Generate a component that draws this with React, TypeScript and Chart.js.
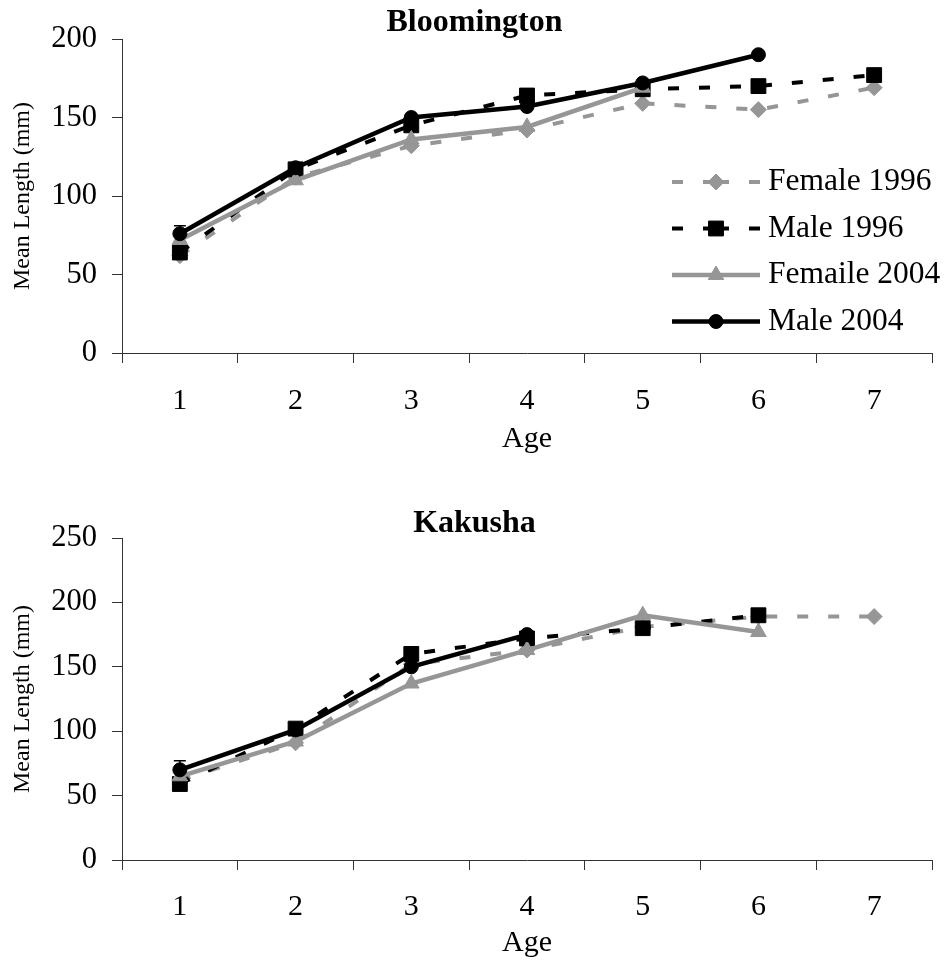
import React, { useEffect, useRef } from 'react';
import { Chart, registerables } from 'chart.js';
import { drawPoint } from 'chart.js/helpers';

Chart.register(...registerables);
Chart.defaults.font.family = '"Liberation Serif", "Times New Roman", serif';
Chart.defaults.color = '#000';

// ---------- data ----------
const ages = ['1', '2', '3', '4', '5', '6', '7'];
const seriesNames = ['Female 1996', 'Male 1996', 'Femaile 2004', 'Male 2004'];

const bloomF1996 = [62, 112, 132, 142, 159, 155, 169];
const bloomM1996 = [64, 117, 145, 164, 168, 170, 177];
const bloomF2004 = [72, 110, 136, 144, 169, null, null];
const bloomM2004 = [76, 118, 150, 157, 172, 190, null];
const bloomM2004Err = [5, null, null, null, null, null, null];
const bloomYTicks = [0, 50, 100, 150, 200];

const kakF1996 = [62, 91, 152, 163, 181, 189, 189];
const kakM1996 = [59, 102, 160, 172, 180, 190, null];
const kakF2004 = [65, 92, 137, 163, 190, 177, null];
const kakM2004 = [70, 101, 150, 175, null, null, null];
const kakM2004Err = [7, null, null, null, null, null, null];
const kakYTicks = [0, 50, 100, 150, 200, 250];

// ---------- styles ----------
const GRAY = '#969696';
const BLACK = '#000000';
const AXIS = '#333333';
const seriesStyles = [
  { color: GRAY, dash: [11, 20], width: 4, point: 'rectRot', radius: 8, order: 3 },
  { color: BLACK, dash: [11, 20], width: 4, point: 'rect', radius: 10.5, order: 2 },
  { color: GRAY, dash: [] as number[], width: 4.5, point: 'triangle', radius: 9, order: 1 },
  { color: BLACK, dash: [] as number[], width: 4.5, point: 'circle', radius: 7, order: 0 },
];

const insideLegend = {
  id: 'insideLegend',
  afterDraw(chart: any, _args: any, opts: any) {
    if (!opts || !opts.display) return;
    const ctx = chart.ctx;
    const { x0, x1, tx, y0, dy } = opts;
    const xm = (x0 + x1) / 2;
    ctx.save();
    chart.data.datasets.forEach((ds: any, i: number) => {
      const y = y0 + i * dy;
      ctx.lineWidth = ds.borderWidth;
      ctx.strokeStyle = ds.borderColor;
      ctx.lineCap = 'butt';
      ctx.setLineDash(ds.borderDash || []);
      ctx.beginPath();
      ctx.moveTo(x0, y);
      ctx.lineTo(xm, y);
      ctx.stroke();
      ctx.beginPath();
      ctx.moveTo(x1, y);
      ctx.lineTo(xm, y);
      ctx.stroke();
      ctx.setLineDash([]);
      ctx.fillStyle = ds.pointBackgroundColor;
      ctx.strokeStyle = ds.pointBorderColor;
      ctx.lineWidth = 1;
      drawPoint(ctx, { pointStyle: ds.pointStyle, radius: ds.pointRadius, borderWidth: 1, rotation: 0 } as any, xm, y);
      ctx.fillStyle = '#000';
      ctx.font = '31.5px "Liberation Serif", "Times New Roman", serif';
      ctx.textAlign = 'left';
      ctx.textBaseline = 'middle';
      ctx.fillText(ds.label, tx, y);
    });
    ctx.restore();
  },
};

const errorBars = {
  id: 'errorBars',
  beforeDatasetsDraw(chart: any, _args: any, opts: any) {
    if (!opts || !opts.errors) return;
    const ctx = chart.ctx;
    const idx = opts.datasetIndex;
    const ds = chart.data.datasets[idx];
    const meta = chart.getDatasetMeta(idx);
    const yScale = chart.scales.y;
    ctx.save();
    ctx.strokeStyle = '#000';
    ctx.lineWidth = 1.5;
    meta.data.forEach((pt: any, i: number) => {
      const e = opts.errors[i];
      const v = ds.data[i];
      if (e == null || v == null) return;
      const yt = yScale.getPixelForValue(v + e);
      const yb = yScale.getPixelForValue(v - e);
      ctx.beginPath();
      ctx.moveTo(pt.x, yt);
      ctx.lineTo(pt.x, yb);
      ctx.moveTo(pt.x - 6, yt);
      ctx.lineTo(pt.x + 6, yt);
      ctx.moveTo(pt.x - 6, yb);
      ctx.lineTo(pt.x + 6, yb);
      ctx.stroke();
    });
    ctx.restore();
  },
};

function makeDatasets(series: (number | null)[][]) {
  return series.map((data, i) => {
    const s = seriesStyles[i];
    return {
      label: seriesNames[i],
      data,
      borderColor: s.color,
      backgroundColor: s.color,
      borderWidth: s.width,
      borderDash: s.dash,
      pointStyle: s.point,
      pointRadius: s.radius,
      pointHoverRadius: s.radius,
      pointBackgroundColor: s.color,
      pointBorderColor: s.color,
      pointBorderWidth: 1,
      tension: 0,
      fill: false,
      order: s.order,
      spanGaps: false,
    };
  });
}

const LEFT_PAD = 17;

function makeConfig(opts: {
  title: string;
  yTicks: number[];
  series: (number | null)[][];
  errors: (number | null)[];
  titlePadTop: number;
  titlePadBottom: number;
  xHeight: number;
  xTickPad: number;
  legend: boolean;
}): any {
  const yt = opts.yTicks;
  return {
    type: 'line',
    data: { labels: ages, datasets: makeDatasets(opts.series) },
    plugins: [insideLegend, errorBars],
    options: {
      responsive: false,
      animation: false,
      devicePixelRatio: 1,
      events: [],
      layout: { padding: { left: LEFT_PAD, right: 14, top: 0, bottom: 0 } },
      plugins: {
        legend: { display: false },
        tooltip: { enabled: false },
        title: {
          display: true,
          text: opts.title,
          color: '#000',
          font: { size: 32, weight: 'bold', lineHeight: 1 },
          padding: { top: opts.titlePadTop, bottom: opts.titlePadBottom },
        },
        insideLegend: { display: opts.legend, x0: 672, x1: 760, tx: 768, y0: 182, dy: 46.5 },
        errorBars: { errors: opts.errors, datasetIndex: 3 },
      },
      scales: {
        x: {
          type: 'category',
          offset: true,
          grid: {
            display: true,
            offset: true,
            drawOnChartArea: false,
            drawTicks: true,
            tickLength: 10,
            color: AXIS,
            lineWidth: 1,
          },
          border: { display: true, color: AXIS, width: 1 },
          ticks: { font: { size: 30 }, padding: opts.xTickPad, color: '#000', maxRotation: 0, autoSkip: false },
          title: {
            display: true,
            text: 'Age',
            color: '#000',
            font: { size: 30, lineHeight: 1.2 },
            padding: { top: 0, bottom: 0 },
          },
          afterFit: (s: any) => {
            s.height = opts.xHeight;
          },
        },
        y: {
          type: 'linear',
          min: yt[0],
          max: yt[yt.length - 1],
          ticks: { stepSize: yt[1] - yt[0], font: { size: 30.5 }, padding: 15, color: '#000' },
          grid: {
            display: true,
            drawOnChartArea: false,
            drawTicks: true,
            tickLength: 10,
            color: AXIS,
            lineWidth: 1,
          },
          border: { display: true, color: AXIS, width: 1 },
          title: {
            display: true,
            text: 'Mean Length (mm)',
            color: '#000',
            font: { size: 24, lineHeight: 1 },
            padding: { top: -6, bottom: 0 },
          },
          afterFit: (s: any) => {
            s.width = 122 - LEFT_PAD;
          },
        },
      },
    },
  };
}

export default function App() {
  const topRef = useRef<HTMLCanvasElement>(null);
  const botRef = useRef<HTMLCanvasElement>(null);

  useEffect(() => {
    const c1 = new Chart(
      topRef.current as HTMLCanvasElement,
      makeConfig({
        title: 'Bloomington',
        yTicks: bloomYTicks,
        series: [bloomF1996, bloomM1996, bloomF2004, bloomM2004],
        errors: bloomM2004Err,
        titlePadTop: 6.5,
        titlePadBottom: 0.5,
        xHeight: 104,
        xTickPad: 20,
        legend: true,
      })
    );
    const c2 = new Chart(
      botRef.current as HTMLCanvasElement,
      makeConfig({
        title: 'Kakusha',
        yTicks: kakYTicks,
        series: [kakF1996, kakM1996, kakF2004, kakM2004],
        errors: kakM2004Err,
        titlePadTop: 50.5,
        titlePadBottom: -1.5,
        xHeight: 101,
        xTickPad: 19,
        legend: false,
      })
    );
    return () => {
      c1.destroy();
      c2.destroy();
    };
  }, []);

  return (
    <div style={{ position: 'absolute', left: 0, top: 0, width: 946, height: 961, background: '#fff' }}>
      <canvas ref={topRef} width={946} height={457} style={{ position: 'absolute', left: 0, top: 0 }} />
      <canvas ref={botRef} width={946} height={504} style={{ position: 'absolute', left: 0, top: 457 }} />
    </div>
  );
}
